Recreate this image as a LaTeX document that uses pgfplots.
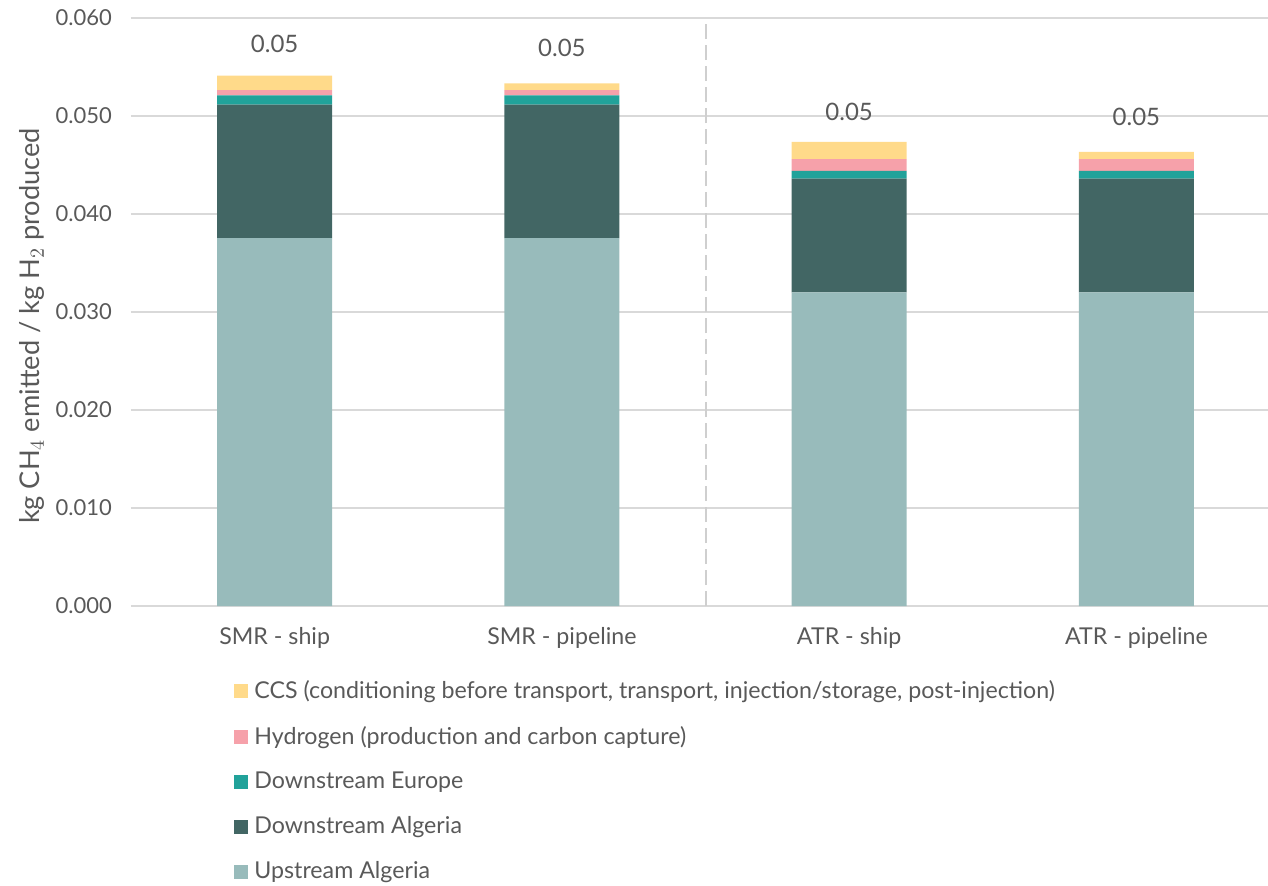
\documentclass[border=0pt]{standalone}
\usepackage{fontspec}
\setmainfont{Lato}
\usepackage{pgfplots}
\usepackage{pgfplotstable}
\pgfplotsset{compat=1.18}

\definecolor{upalg}{HTML}{98BBBB}
\definecolor{downalg}{HTML}{426664}
\definecolor{downeu}{HTML}{21A29A}
\definecolor{hydro}{HTML}{F6A1AA}
\definecolor{ccs}{HTML}{FFDA8A}
\definecolor{txt}{HTML}{595959}
\definecolor{gridc}{HTML}{D9D9D9}
\definecolor{divider}{HTML}{CFCFCF}

% kg CH4 per kg H2, by stage of the chain
\pgfplotstableread{
x  up       da       de       h2       ccs      total
0  0.03755  0.01361  0.00095  0.00054  0.00146  0.05411
1  0.03755  0.01361  0.00095  0.00054  0.00069  0.05334
2  0.03201  0.01159  0.00079  0.00122  0.00174  0.04735
3  0.03201  0.01159  0.00079  0.00122  0.00072  0.04633
}\emissions

\newcommand\labfont{\fontsize{11.6}{13.9}\selectfont}

\begin{document}
\begin{tikzpicture}
\useasboundingbox (-65.5pt,-139.5pt) rectangle (568.5pt,303pt);
\begin{axis}[
  at={(0,0)}, anchor=south west,
  scale only axis,
  width=568.5pt, height=294pt,
  ybar stacked,
  bar width=57.5pt,
  xmin=-0.5, xmax=3.458,
  ymin=0, ymax=0.06,
  ytick={0,0.01,...,0.06},
  scaled y ticks=false,
  /pgf/number format/fixed,
  /pgf/number format/fixed zerofill,
  /pgf/number format/precision=3,
  /pgf/number format/assume math mode=true,
  xtick=data,
  xticklabels={SMR - ship, SMR - pipeline, ATR - ship, ATR - pipeline},
  major tick length=0pt,
  ymajorgrids,
  grid style={gridc, line width=0.75pt},
  axis line style={draw=none},
  tick label style={text=txt},
  yticklabel style={font=\fontsize{11}{13.2}\selectfont, xshift=-6pt},
  xticklabel style={font=\labfont, yshift=-7pt},
  ylabel={kg CH$_4$ emitted / kg H$_2$ produced},
  every axis y label/.style={at={(-49.5pt,140pt)}, rotate=90, anchor=center,
    font=\fontsize{13.6}{16}\selectfont, text=txt},
  legend style={at={(48.5pt,-35pt)}, anchor=north west, draw=none, fill=none,
    font=\labfont, text=txt, row sep=12.45pt,
    nodes={inner sep=0pt, outer sep=0pt}},
  legend cell align=left,
  reverse legend,
  legend image code/.code={\fill[#1] (0pt,-3.5pt) rectangle (7pt,3.5pt); \path (10pt,0pt);},
  legend columns=1,
]
\addplot[fill=upalg, draw=none] table[x=x, y=up] {\emissions};
\addplot[fill=downalg, draw=none] table[x=x, y=da] {\emissions};
\addplot[fill=downeu, draw=none] table[x=x, y=de] {\emissions};
\addplot[fill=hydro, draw=none] table[x=x, y=h2] {\emissions};
\addplot[fill=ccs, draw=none,
  point meta=explicit,
  nodes near coords,
  nodes near coords style={text=txt, font=\fontsize{12}{14.4}\selectfont, anchor=center, yshift=19.5pt,
    /pgf/number format/precision=2},
  ] table[x=x, y=ccs, meta=total] {\emissions};
\legend{Upstream Algeria, Downstream Algeria, Downstream Europe, Hydrogen (production and carbon capture), {CCS (conditioning before transport, transport, injection/storage, post-injection)}}
\draw[color=divider, line width=1pt, dash pattern=on 7.5pt off 3pt] (axis cs:1.5,0) -- (axis cs:1.5,0.06);
\end{axis}
\end{tikzpicture}
\end{document}
